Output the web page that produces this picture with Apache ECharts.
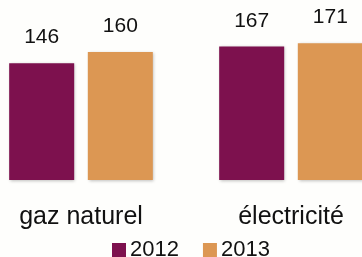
<!DOCTYPE html>
<html><head><meta charset="utf-8">
<script src="https://cdn.jsdelivr.net/npm/echarts@6/dist/echarts.min.js"></script>
<style>html,body{margin:0;padding:0;background:#fefefc;overflow:hidden;width:362px;height:257px}#c{width:420px;height:257px;margin-left:-24px}</style>
</head><body><div id="c"></div>
<script>
var categories = ['gaz naturel', 'électricité'];
var seriesNames = ['2012', '2013'];
var values2012 = [146, 167];
var values2013 = [160, 171];

var chart = echarts.init(document.getElementById('c'), null, {renderer: 'canvas'});
var font = 'Liberation Sans';
var colors = ['#7d114e', '#dc9753'];
function mk(name, data, i) {
  return {
    name: name, type: 'bar', data: data, barWidth: 65, barGap: '21%',
    itemStyle: {color: colors[i], shadowColor: 'rgba(0,0,0,0.25)', shadowBlur: 3, shadowOffsetX: 1, shadowOffsetY: 1},
    label: {show: true, position: 'top', distance: 15, fontFamily: font, fontSize: 21, color: '#111'}
  };
}
chart.setOption({
  backgroundColor: '#fefefc',
  animation: false,
  grid: {left: 0, right: 0, top: 0, bottom: 77},
  legend: {
    top: 239, left: 136, padding: 0, itemWidth: 14, itemHeight: 14, itemGap: 24,
    icon: 'rect',
    textStyle: {fontFamily: font, fontSize: 22, color: '#111', padding: [0, 0, 0, -1]},
    data: seriesNames
  },
  xAxis: {
    type: 'category', data: categories,
    axisLine: {show: false}, axisTick: {show: false},
    axisLabel: {fontFamily: font, fontSize: 25, color: '#111', margin: 25}
  },
  yAxis: {type: 'value', min: 0, max: 225, show: false, splitLine: {show: false}},
  series: [mk(seriesNames[0], values2012, 0), mk(seriesNames[1], values2013, 1)]
});
</script></body></html>
